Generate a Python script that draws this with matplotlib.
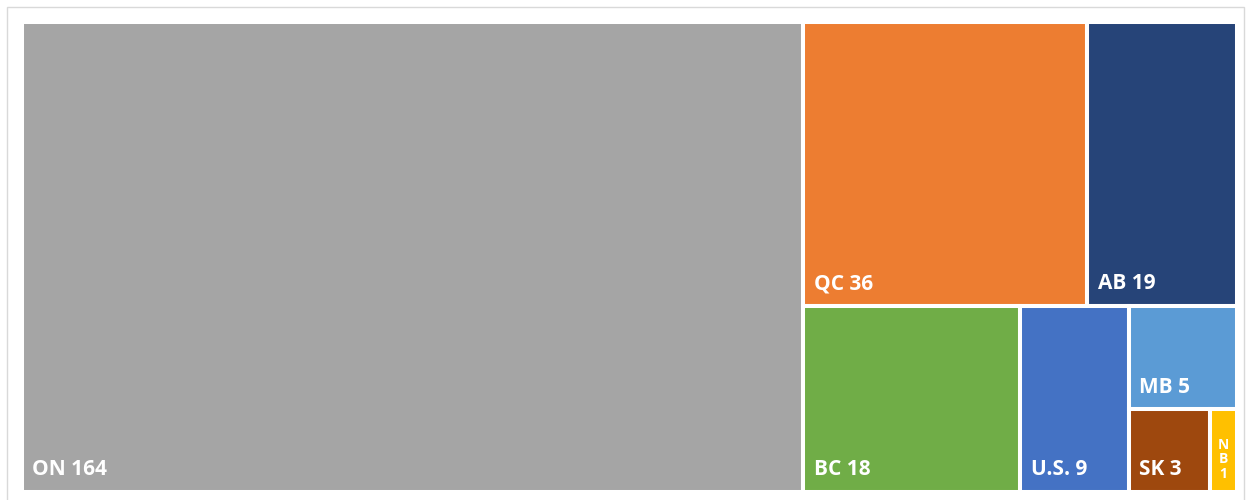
import matplotlib
matplotlib.use("Agg")
import matplotlib.pyplot as plt
import matplotlib.patches as mpatches

labels = ["ON", "QC", "AB", "BC", "U.S.", "MB", "SK", "NB"]
values = [164, 36, 19, 18, 9, 5, 3, 1]
colors = ["#A5A5A5", "#ED7D31", "#264478", "#70AD47", "#4472C4", "#5B9BD5", "#9E480E", "#FFC000"]


def worst(row, side):
    s = sum(row)
    return max(max(side**2 * r / s**2, s**2 / (side**2 * r)) for r in row)


def squarify(areas, x, y, w, h):
    rects = []
    while areas:
        side = min(w, h)
        row = [areas[0]]
        i = 1
        while i < len(areas) and worst(row + [areas[i]], side) <= worst(row, side):
            row.append(areas[i])
            i += 1
        s = sum(row)
        if w >= h:
            t = s / h
            yy = y
            for a in row:
                rects.append((x, yy, t, a / t))
                yy += a / t
            x += t
            w -= t
        else:
            t = s / w
            xx = x
            for a in row:
                rects.append((xx, y, a / t, t))
                xx += a / t
            y += t
            h -= t
        areas = areas[i:]
    return rects


W, H = 1215, 470
total = sum(values)
areas = [v / total * W * H for v in values]
rects = squarify(areas, 0, 0, W, H)

fig = plt.figure(figsize=(12.5, 5), dpi=100)
ax = fig.add_axes([22 / 1250, 8 / 500, W / 1250, H / 500])
ax.set_xlim(0, W)
ax.set_ylim(H, 0)
ax.axis("off")

# chart frame
fig.patches.append(mpatches.Rectangle((7 / 1250, -0.02), 1237 / 1250, 493 / 500 + 0.02,
                                      transform=fig.transFigure, fill=False,
                                      edgecolor="#D9D9D9", lw=1))

for (x, y, w, h), lab, val, c in zip(rects, labels, values, colors):
    ax.add_patch(mpatches.Rectangle((x, y), w, h, facecolor=c, edgecolor="white", lw=2.9))
    if w > 50:
        ax.annotate(f"{lab} {val}", (x, y + h), xytext=(7.5, 12), textcoords="offset points",
                    color="white", fontsize=15, fontweight="bold", family="Open Sans",
                    ha="left", va="baseline")
    else:
        ax.annotate("\n".join(list(lab) + [str(val)]), (x + w / 2, y + h), xytext=(0, 8),
                    textcoords="offset points", color="white", fontsize=10,
                    fontweight="bold", family="Open Sans", ha="center", va="bottom",
                    linespacing=1.05)

fig.savefig("out.png", dpi=100)
